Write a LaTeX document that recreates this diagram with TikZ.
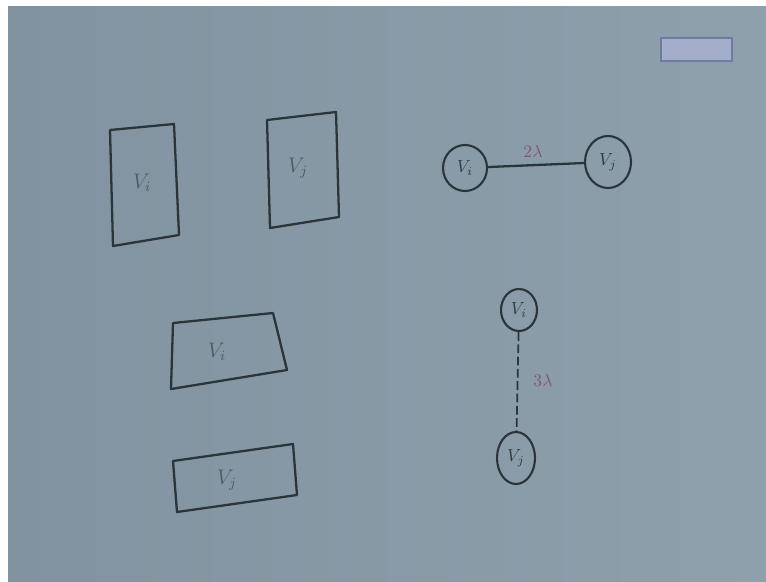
\documentclass[tikz,border=0pt]{standalone}
\usetikzlibrary{shapes.geometric}
\definecolor{board}{HTML}{8DA0A5}
\definecolor{boardl}{HTML}{8193A0}
\definecolor{boardr}{HTML}{8FA0AD}
\definecolor{ink}{HTML}{2B3539}
\definecolor{faint}{HTML}{4C5B61}
\definecolor{pinkink}{HTML}{84537A}
\definecolor{logo}{HTML}{A4AECB}
\definecolor{logoedge}{HTML}{6E7BA0}
\tikzset{
  pen/.style={draw=ink, line width=1.3pt, line join=round},
  vtx/.style={ellipse, draw=ink, line width=1.2pt, inner sep=0pt, text=ink!80!faint},
}
\begin{document}
\begin{tikzpicture}[x=0.02cm,y=-0.02cm]
\useasboundingbox (0,0) rectangle (766,581);
\fill[white] (0,0) rectangle (766,581);
\shade[left color=boardl, middle color=board, right color=boardr] (8,7) rectangle (766,581);
\draw[draw=logoedge, fill=logo, line width=0.8pt] (661,38) rectangle (732,61);

\draw[pen] (110,130) -- (174,124) -- (179,235) -- (113,246) -- cycle;
\node[faint] (sqi) at (142,183) {\large $V_i$};
\draw[pen] (267,120) -- (336,112) -- (339,217) -- (270,228) -- cycle;
\node[faint] (sqj) at (298,168) {\large $V_j$};

\draw[pen] (173,323) -- (273,313) -- (287,370) -- (171,389) -- cycle;
\node[faint] (tri) at (217,352) {\large $V_i$};
\draw[pen] (173,461) -- (293,444) -- (297,495) -- (177,512) -- cycle;
\node[faint] (trj) at (227,480) {\large $V_j$};

\node[vtx, minimum width=0.88cm, minimum height=0.92cm] (ci) at (465,168) {$V_i$};
\node[vtx, minimum width=0.92cm, minimum height=1.04cm] (cj) at (608,162) {$V_j$};
\draw[pen] (ci) -- (cj);
\node[pinkink] (lam2) at (533,151) {$2\lambda$};

\node[vtx, minimum width=0.72cm, minimum height=0.84cm] (vi) at (519,310) {$V_i$};
\node[vtx, minimum width=0.76cm, minimum height=1.04cm] (vj) at (516,458) {$V_j$};
\draw[ink, line width=1pt, dash pattern=on 5pt off 2pt] (vi) -- (vj);
\node[pinkink] (lam3) at (543,380) {$3\lambda$};
\end{tikzpicture}
\end{document}
